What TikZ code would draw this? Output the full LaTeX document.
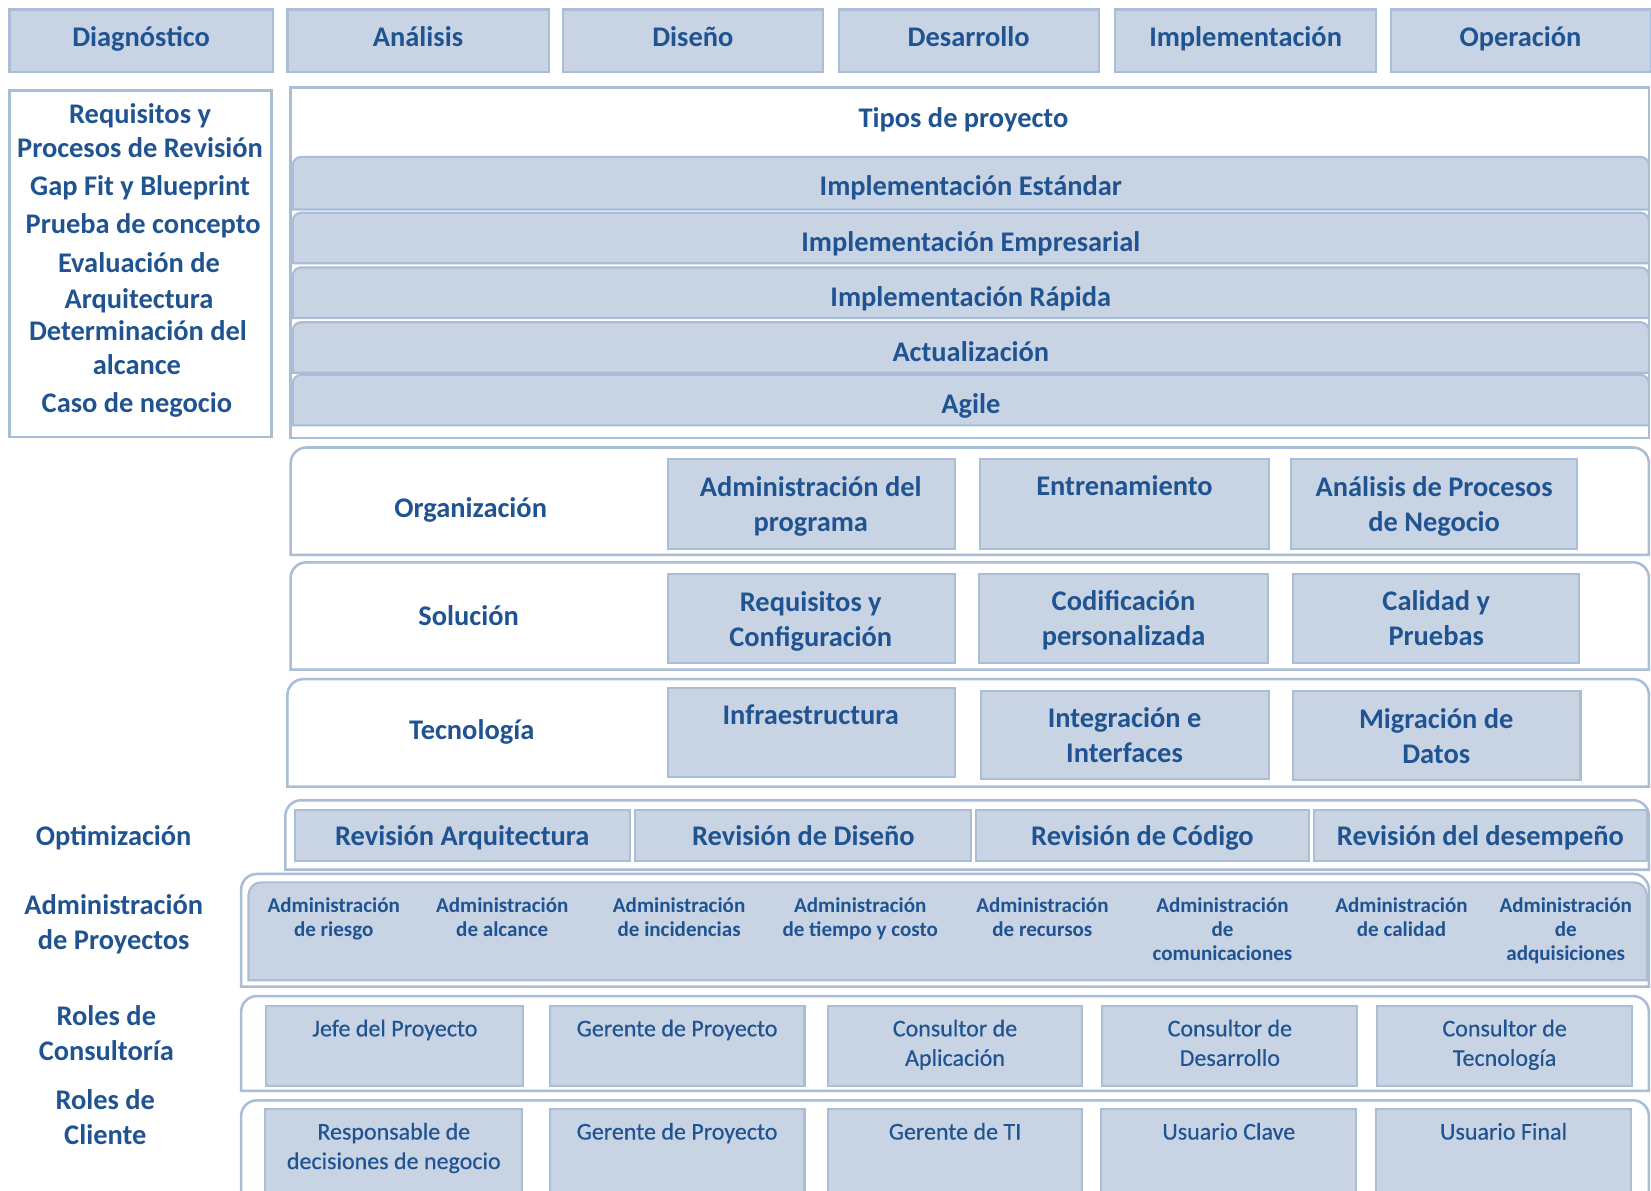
\documentclass[tikz,border=0pt]{standalone}
\usepackage{fontspec}
\setmainfont{Carlito}
\newfontfamily\rolefont{Carlito}[FakeBold=0.4]
\usetikzlibrary{fit}
\definecolor{cfill}{HTML}{C8D4E4}
\definecolor{cline}{HTML}{A9BDD6}
\definecolor{ctext}{HTML}{1F5391}
\newcommand\cbox[5]{\node[cell, fit={(#2,#3) (#4,#5)}] (#1) {};}
\newcommand\tframe[6][frame]{\draw[#1] (#2,#5) -- (#2,#3+#6) arc[start angle=180,end angle=270,radius=#6] -- (#4-#6,#3) arc[start angle=270,end angle=360,radius=#6] -- (#4,#5) -- cycle;}
\begin{document}
\begin{tikzpicture}[x=0.5pt,y=-0.5pt,
 cell/.style={fill=cfill, draw=cline, line width=1pt, inner sep=0pt},
 frame/.style={fill=white, draw=cline, line width=1.2pt},
 bar/.style={fill=cfill, draw=cline, line width=1pt},
 bl/.style={text=ctext, font=\bfseries\fontsize{13.5}{16.5}\selectfont, align=center, inner sep=0pt},
 b1/.style={bl, anchor=base},
 sl/.style={text=ctext, font=\bfseries\fontsize{10}{11.5}\selectfont, align=center, inner sep=0pt},
 rl/.style={text=ctext, font=\rolefont\fontsize{11.4}{14}\selectfont, align=center, inner sep=0pt}]
\useasboundingbox (0,0) rectangle (1568,1131);
% header row
\cbox{h1}{9}{9}{259}{68}      \node[b1] (h1t) at (134,44) {Diagnóstico};
\cbox{h2}{273}{9}{521}{68}    \node[b1] (h2t) at (397,44) {Análisis};
\cbox{h3}{535}{9}{782}{68}    \node[b1] (h3t) at (658,44) {Diseño};
\cbox{h4}{797}{9}{1044}{68}   \node[b1] (h4t) at (920,44) {Desarrollo};
\cbox{h5}{1059}{9}{1307}{68}  \node[b1] (h5t) at (1183,44) {Implementación};
\cbox{h6}{1321}{9}{1568}{68}  \node[b1] (h6t) at (1444,44) {Operación};
% left list
\node[frame, inner sep=0pt, fit={(9,86) (258,415)}] (lbox) {};
\node[b1] (l1) at (133,117) {Requisitos y};
\node[b1] (l2) at (133,150) {Procesos de Revisión};
\node[b1] (l3) at (133,186) {Gap Fit y Blueprint};
\node[b1] (l4) at (136,222) {Prueba de concepto};
\node[b1] (l5) at (132,259) {Evaluación de};
\node[b1] (l6) at (132,293) {Arquitectura};
\node[b1] (l7) at (131,323) {Determinación del};
\node[b1] (l8) at (130,356) {alcance};
\node[b1] (l9) at (130,392) {Caso de negocio};
% tipos de proyecto
\node[frame, inner sep=0pt, fit={(276,83) (1566,416)}] (tbox) {};
\node[b1] (tt) at (915,121) {Tipos de proyecto};
\tframe[bar]{278}{149}{1566}{199}{8} \node[b1] (b1) at (922,186) {Implementación Estándar};
\tframe[bar]{278}{202}{1566}{250}{8} \node[b1] (b2) at (922,239) {Implementación Empresarial};
\tframe[bar]{278}{254}{1566}{302}{8} \node[b1] (b3) at (922,291) {Implementación Rápida};
\tframe[bar]{278}{306}{1566}{354}{8} \node[b1] (b4) at (922,343) {Actualización};
\tframe[bar]{278}{356}{1566}{404}{8} \node[b1] (b5) at (922,393) {Agile};
% organizacion
\tframe{276}{425}{1566}{527}{15}
\node[b1] (org) at (447,491) {Organización};
\cbox{o1}{634}{436}{907}{521}   \node[bl] (o1t) at (770,481) {Administración del\\programa};
\cbox{o2}{931}{436}{1205}{521}  \node[b1] (o2t) at (1068,471) {Entrenamiento};
\cbox{o3}{1226}{436}{1498}{521} \node[bl] (o3t) at (1362,481) {Análisis de Procesos\\de Negocio};
% solucion
\tframe{276}{534}{1566}{636}{15}
\node[b1] (sol) at (445,594) {Solución};
\cbox{s1}{634}{545}{907}{630}   \node[bl] (s1t) at (770,590) {Requisitos y\\Configuración};
\cbox{s2}{930}{545}{1204}{630}  \node[bl] (s2t) at (1067,589) {Codificación\\personalizada};
\cbox{s3}{1228}{545}{1500}{630} \node[bl] (s3t) at (1364,587) {Calidad y\\Pruebas};
% tecnologia
\tframe{273}{645}{1566}{747}{15}
\node[b1] (tec) at (448,702) {Tecnología};
\cbox{t1}{634}{653}{907}{738}   \node[b1] (t1t) at (770,688) {Infraestructura};
\cbox{t2}{932}{656}{1205}{740}  \node[bl] (t2t) at (1068,698) {Integración e\\Interfaces};
\cbox{t3}{1228}{656}{1501}{741} \node[bl] (t3t) at (1364,699) {Migración de\\Datos};
% optimizacion
\node[b1] (opt) at (108,803) {Optimización};
\tframe{271}{760}{1566}{826}{15}
\cbox{r1}{280}{769}{598}{818}   \node[b1] (r1t) at (439,803) {Revisión Arquitectura};
\cbox{r2}{603}{769}{922}{818}   \node[b1] (r2t) at (763,803) {Revisión de Diseño};
\cbox{r3}{927}{769}{1243}{818}  \node[b1] (r3t) at (1085,803) {Revisión de Código};
\cbox{r4}{1248}{769}{1564}{818} \node[b1] (r4t) at (1406,803) {Revisión del desempeño};
% administracion de proyectos
\node[bl] (adm) at (108,878) {Administración\\de Proyectos};
\tframe{229}{830}{1566}{937}{15}
\tframe[bar]{236}{838}{1564}{931}{12}
\node[sl, anchor=north] (a1) at (317,852) {Administración\\de riesgo};
\node[sl, anchor=north] (a2) at (477,852) {Administración\\de alcance};
\node[sl, anchor=north] (a3) at (645,852) {Administración\\de incidencias};
\node[sl, anchor=north] (a4) at (817,852) {Administración\\de tiempo y costo};
\node[sl, anchor=north] (a5) at (990,852) {Administración\\de recursos};
\node[sl, anchor=north] (a6) at (1161,852) {Administración\\de\\comunicaciones};
\node[sl, anchor=north] (a7) at (1331,852) {Administración\\de calidad};
\node[sl, anchor=north] (a8) at (1487,852) {Administración\\de\\adquisiciones};
% roles de consultoria
\node[bl] (rc) at (101,981) {Roles de\\Consultoría};
\tframe{229}{946}{1566}{1036}{15}
\cbox{c1}{253}{955}{497}{1031}   \node[rl, anchor=north] (c1t) at (375,968) {Jefe del Proyecto};
\cbox{c2}{522}{955}{764}{1031}   \node[rl, anchor=north] (c2t) at (643,968) {Gerente de Proyecto};
\cbox{c3}{786}{955}{1028}{1031}  \node[rl, anchor=north] (c3t) at (907,968) {Consultor de\\Aplicación};
\cbox{c4}{1047}{955}{1289}{1031} \node[rl, anchor=north] (c4t) at (1168,968) {Consultor de\\Desarrollo};
\cbox{c5}{1308}{955}{1550}{1031} \node[rl, anchor=north] (c5t) at (1429,968) {Consultor de\\Tecnología};
% roles de cliente
\node[bl] (rcl) at (100,1061) {Roles de\\Cliente};
\tframe{229}{1045}{1566}{1145}{15}
\cbox{k1}{252}{1053}{496}{1140}   \node[rl, anchor=north] (k1t) at (374,1066) {Responsable de\\decisiones de negocio};
\cbox{k2}{522}{1053}{764}{1140}   \node[rl, anchor=north] (k2t) at (643,1066) {Gerente de Proyecto};
\cbox{k3}{786}{1053}{1028}{1140}  \node[rl, anchor=north] (k3t) at (907,1066) {Gerente de TI};
\cbox{k4}{1046}{1053}{1288}{1140} \node[rl, anchor=north] (k4t) at (1167,1066) {Usuario Clave};
\cbox{k5}{1307}{1053}{1549}{1140} \node[rl, anchor=north] (k5t) at (1428,1066) {Usuario Final};
\end{tikzpicture}
\end{document}
